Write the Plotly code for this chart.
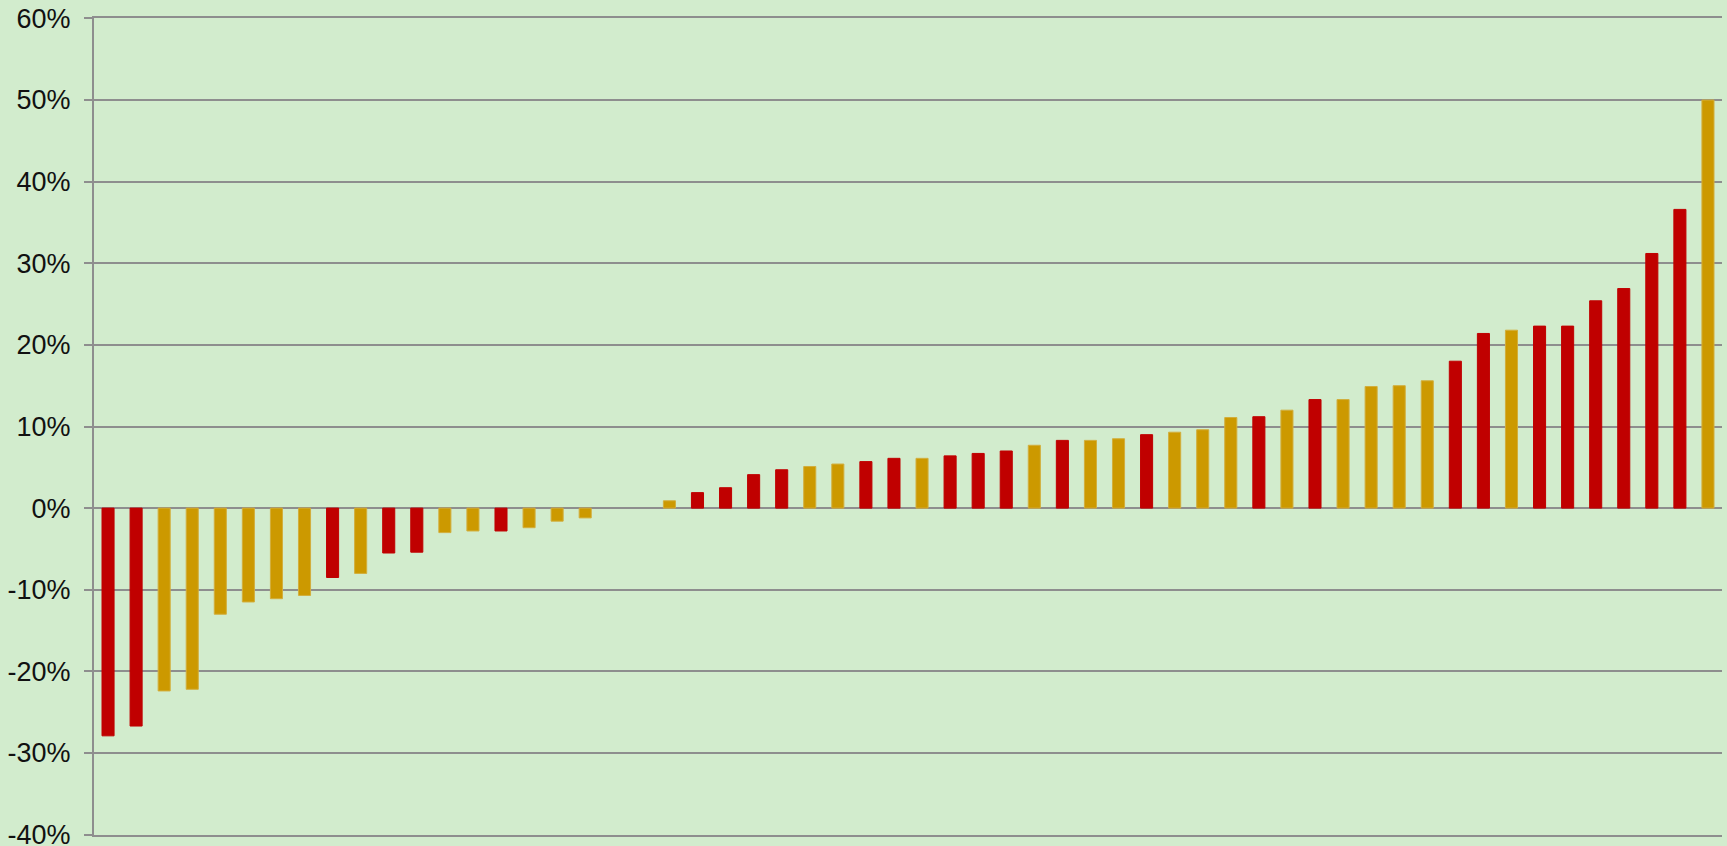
import plotly.graph_objects as go

# Bar values (fraction), sorted ascending
values = [
    -0.279, -0.267, -0.224, -0.222, -0.130, -0.115, -0.111, -0.107, -0.085, -0.080,
    -0.055, -0.054, -0.030, -0.028, -0.028, -0.024, -0.016, -0.012, 0.0, 0.0,
    0.009, 0.019, 0.025, 0.041, 0.047, 0.051, 0.054, 0.057, 0.061, 0.061,
    0.064, 0.067, 0.070, 0.077, 0.083, 0.083, 0.085, 0.090, 0.093, 0.096,
    0.111, 0.112, 0.120, 0.133, 0.133, 0.149, 0.150, 0.156, 0.180, 0.214,
    0.218, 0.223, 0.223, 0.254, 0.269, 0.312, 0.366, 0.500,
]
# Group of each bar: "R" = red, "G" = gold
groups = list("RRGGGGGGRGRRGGRGGG" + "GG" + "GRRRRGGRRGRRRGRGGRGG" + "GRGRGGGGRRGRRRRRRG")
categories = [str(i + 1) for i in range(len(values))]

tick_vals = [-0.4, -0.3, -0.2, -0.1, 0.0, 0.1, 0.2, 0.3, 0.4, 0.5, 0.6]
tick_text = ["-40%", "-30%", "-20%", "-10%", "0%", "10%", "20%", "30%", "40%", "50%", "60%"]

RED = "#C00000"
GOLD = "#CC9900"
colors = [RED if g == "R" else GOLD for g in groups]
line_colors = [RED if g == "R" else "#D2AE3C" for g in groups]
line_widths = [0 if v == 0 else 1 for v in values]

BG = "#D2ECCD"
GRID = "#8E8E8E"

fig = go.Figure(
    go.Bar(
        x=categories,
        y=values,
        marker=dict(color=colors, line=dict(color=line_colors, width=line_widths)),
        hoverinfo="x+y",
    )
)

fig.update_layout(
    width=1727,
    height=846,
    paper_bgcolor=BG,
    plot_bgcolor=BG,
    margin=dict(l=94, r=5, t=18, b=11, autoexpand=False),
    bargap=0.57,
    showlegend=False,
    font=dict(family="Liberation Sans, Arial, sans-serif", size=27, color="#111111"),
)

fig.update_xaxes(
    showticklabels=False,
    showgrid=False,
    zeroline=False,
    showline=True,
    mirror=True,
    linecolor=GRID,
    linewidth=2,
    ticks="",
    automargin=False,
    range=[-0.5, len(values) - 0.5],
)

fig.update_yaxes(
    range=[-0.4005, 0.6005],
    tickvals=tick_vals,
    ticktext=tick_text,
    ticklabeloverflow="allow",
    automargin=False,
    showgrid=True,
    gridcolor=GRID,
    gridwidth=2,
    zeroline=True,
    zerolinecolor=GRID,
    zerolinewidth=2,
    showline=True,
    linecolor=GRID,
    linewidth=2,
    ticks="outside",
    ticklen=8,
    tickwidth=2,
    tickcolor=GRID,
    ticklabelstandoff=8,
)

fig.write_html("out.html")
